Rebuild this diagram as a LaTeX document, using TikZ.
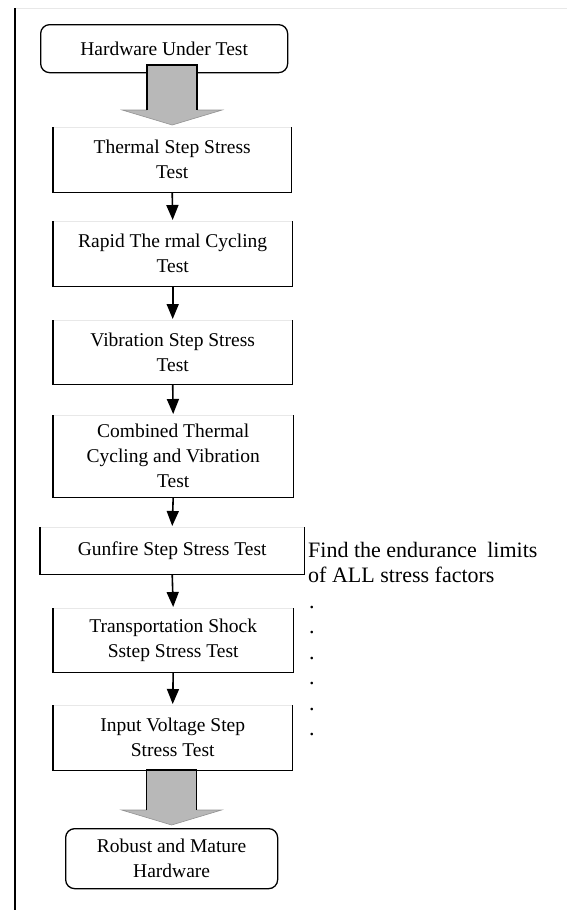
\documentclass[tikz,border=0pt]{standalone}
\usepackage{fontspec}
\setmainfont{Liberation Serif}
\usetikzlibrary{arrows.meta,calc}
\definecolor{bigfill}{RGB}{184,184,184}
\definecolor{faint}{RGB}{232,232,232}
\tikzset{
  boxtext/.style={inner sep=0pt, align=center, font=\fontsize{19.5}{25}\selectfont},
  sidetext/.style={inner sep=0pt, anchor=base west, font=\fontsize{22}{25.5}\selectfont},
  sides/.style={line width=1.8pt, line join=miter},
  topedge/.style={line width=1pt, faint},
  arr/.style={line width=1.6pt, -{Triangle[width=12pt,length=15pt]}, shorten >=1pt},
  pics/bigarrow/.style={code={
    \fill[bigfill] (-25,#1) -- (25,#1) -- (25,-15) -- (50,-15) -- (0,0) -- (-50,-15) -- (-25,-15) -- cycle;
    \draw[line width=0.6pt, bigfill!80!black] (25,-15) -- (50,-15) -- (0,0) -- (-50,-15) -- (-25,-15);
    \draw[line width=1.5pt] (-25,-15) -- (-25,#1) -- (25,#1) -- (25,-15);
  }}
}
\begin{document}
\begin{tikzpicture}[x=1pt,y=-1pt]
\useasboundingbox (0,0) rectangle (567,910);
% frame lines
\draw[line width=1pt, faint] (15,8) -- (567,8);
\draw[line width=2pt] (15,8) -- (15,910);

% rounded start box
\node[boxtext, draw, line width=1.3pt, rounded corners=9pt, minimum width=247pt, minimum height=48pt, anchor=north west] (hw) at (40,24) {Hardware Under Test};

% step boxes
\node[boxtext, minimum width=238pt, minimum height=65pt, anchor=north west] (thermal) at (53,127) {Thermal Step Stress\\Test};
\node[boxtext, minimum width=239pt, minimum height=65pt, anchor=north west] (rapid) at (53,221) {Rapid The rmal Cycling\\Test};
\node[boxtext, minimum width=239pt, minimum height=64pt, anchor=north west] (vib) at (53,320) {Vibration Step Stress\\Test};
\node[boxtext, minimum width=240pt, minimum height=82pt, anchor=north west] (comb) at (53,415) {Combined Thermal\\Cycling and Vibration\\Test};
\node[boxtext, minimum width=264pt, minimum height=47pt, anchor=north west] (gun) at (40,527) {Gunfire Step Stress Test};
\node[boxtext, minimum width=240pt, minimum height=64pt, anchor=north west] (trans) at (53,608) {Transportation Shock\\Sstep Stress Test};
\node[boxtext, minimum width=239pt, minimum height=65pt, anchor=north west] (input) at (53,705) {Input Voltage Step\\Stress Test};

\foreach \n in {thermal,rapid,vib,comb,gun,trans,input}{
  \draw[topedge] (\n.north west) -- (\n.north east);
  \draw[sides] (\n.north west) -- (\n.south west) -- (\n.south east) -- (\n.north east);
}

% end box
\node[boxtext, draw, line width=1.3pt, rounded corners=9pt, minimum width=212pt, minimum height=60pt, anchor=north west] (robust) at (65,828) {Robust and Mature\\Hardware};

% big grey arrows
\coordinate (tipA) at ($(thermal.north)+(0,-2)$);
\pic at (tipA) {bigarrow=-60};
\coordinate (tipB) at ($(robust.north)+(0,-3)$);
\pic at (tipB) {bigarrow=-55};

% small arrows
\draw[arr] (thermal.south) -- (rapid.north);
\draw[arr] (rapid.south) -- (vib.north);
\draw[arr] (vib.south) -- (comb.north);
\draw[arr] (comb.south) -- (gun.north);
\draw[arr] (gun.south) -- (trans.north);
\draw[arr] (trans.south) -- (input.north);

% side note
\node[sidetext] (note1) at (308,557) {Find the endurance\hspace{5pt} limits};
\node[sidetext] (note2) at (308,582.5) {of ALL stress factors};
\foreach \i in {0,...,5}{
  \node[sidetext] (dot\i) at (309,{608+25.5*\i}) {.};
}
\end{tikzpicture}
\end{document}
